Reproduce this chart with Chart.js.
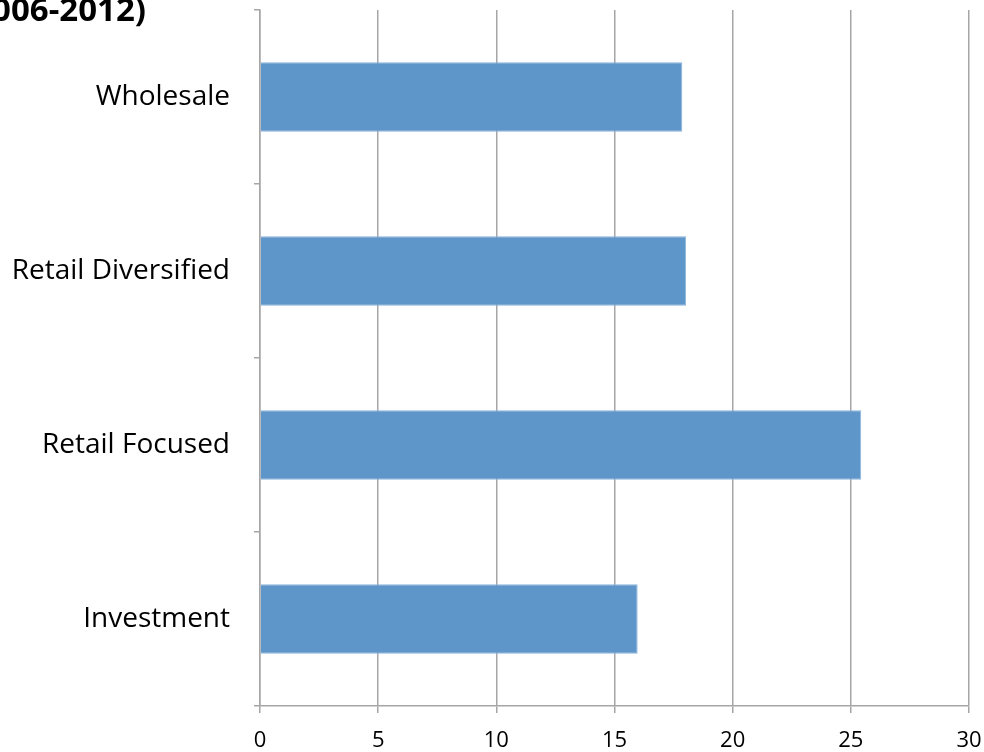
<!DOCTYPE html>
<html>
<head>
<meta charset="utf-8">
<script src="https://cdn.jsdelivr.net/npm/chart.js@4/dist/chart.umd.min.js"></script>
<style>
  html, body { margin: 0; padding: 0; background: #fff; }
  #wrap { width: 984px; height: 752px; }
</style>
</head>
<body>
<div id="wrap"><canvas id="chart" width="984" height="752"></canvas></div>
<script>
const categories = ['Wholesale', 'Retail Diversified', 'Retail Focused', 'Investment'];
const values = [17.87, 18.03, 25.44, 15.98];
const xTicks = [0, 5, 10, 15, 20, 25, 30];
const titleText = 'Average Return on Equity by Business Model (2006-2012)';

const gridColor = '#a6a6a6';
const fontFamily = '"Open Sans", Lato, sans-serif';

// Title sits off to the left, only its tail is visible
const cutTitle = {
    id: 'cutTitle',
    afterDraw(chart) {
        const ctx = chart.ctx;
        ctx.save();
        ctx.font = 'bold 33px ' + fontFamily;
        ctx.fillStyle = '#000';
        ctx.textAlign = 'right';
        ctx.textBaseline = 'alphabetic';
        ctx.fillText(titleText, 146, 21);
        ctx.restore();
    }
};

new Chart(document.getElementById('chart'), {
    type: 'bar',
    data: {
        labels: categories,
        datasets: [{
            data: values,
            backgroundColor: '#5f96ca',
            borderColor: '#8cb4dc',
            borderWidth: 1,
            categoryPercentage: 1,
            barPercentage: 0.4
        }]
    },
    options: {
        indexAxis: 'y',
        responsive: false,
        animation: false,
        layout: { padding: { top: 10, right: 15, left: 0, bottom: 0 } },
        plugins: {
            legend: { display: false },
            tooltip: { enabled: false }
        },
        scales: {
            x: {
                min: 0,
                max: 30,
                afterBuildTicks: (scale) => { scale.ticks = xTicks.map(v => ({ value: v })); },
                afterFit: (scale) => { scale.height = 46; scale.paddingLeft = 0; scale.paddingRight = 0; },
                border: { color: gridColor, width: 1.5 },
                grid: { color: gridColor, lineWidth: 1.5, tickLength: 7 },
                ticks: { color: '#000', font: { family: fontFamily, size: 22 }, padding: 15, maxRotation: 0 }
            },
            y: {
                afterFit: (scale) => { scale.width = 260; scale.paddingTop = 0; scale.paddingBottom = 0; },
                border: { color: gridColor, width: 1.5 },
                grid: { color: gridColor, lineWidth: 1.5, drawOnChartArea: false, tickLength: 6, offset: true },
                ticks: { color: '#000', font: { family: fontFamily, size: 28 }, padding: 24 }
            }
        }
    },
    plugins: [cutTitle]
});
</script>
</body>
</html>
